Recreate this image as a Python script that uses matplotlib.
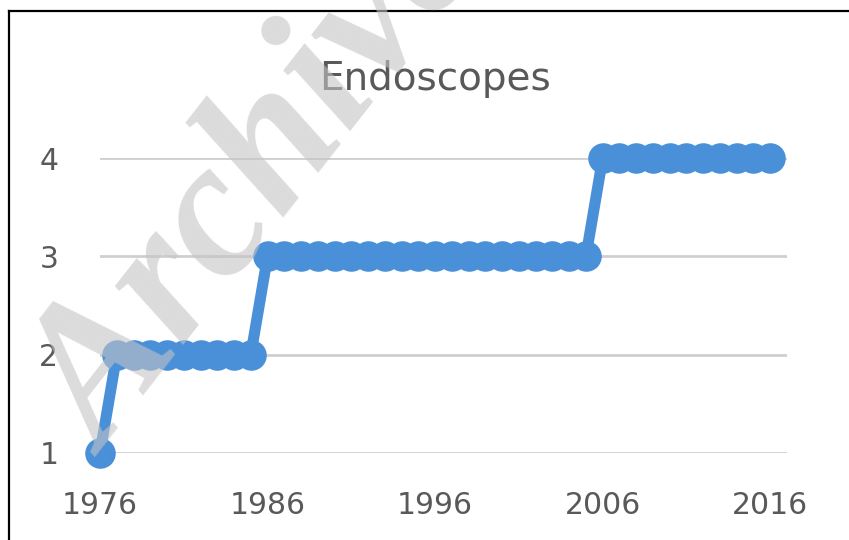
"""Endoscopes count over time, Excel-style line chart."""

import matplotlib

matplotlib.use("Agg")
import matplotlib.pyplot as plt
from matplotlib.lines import Line2D

YEARS = [
    1976, 1977, 1978, 1979, 1980, 1981, 1982, 1983, 1984, 1985,
    1986, 1987, 1988, 1989, 1990, 1991, 1992, 1993, 1994, 1995,
    1996, 1997, 1998, 1999, 2000, 2001, 2002, 2003, 2004, 2005,
    2006, 2007, 2008, 2009, 2010, 2011, 2012, 2013, 2014, 2015, 2016,
]
ENDOSCOPES = [
    1, 2, 2, 2, 2, 2, 2, 2, 2, 2,
    3, 3, 3, 3, 3, 3, 3, 3, 3, 3,
    3, 3, 3, 3, 3, 3, 3, 3, 3, 3,
    4, 4, 4, 4, 4, 4, 4, 4, 4, 4, 4,
]
X_TICKS = [1976, 1986, 1996, 2006, 2016]
Y_TICKS = [1, 2, 3, 4]

COLORS = {
    "line": "#4A90D9",
    "grid": "#CFCFCF",
    "text": "#595959",
    "mark": "#C4C4C4",
}

W, H = 849, 540
fig = plt.figure(figsize=(W / 100, H / 100), dpi=100)
fig.patch.set_facecolor("white")

ax = fig.add_axes([100 / W, 1 - 453 / H, 687 / W, 295 / H])
ax.set_facecolor("white")

ax.plot(
    YEARS,
    ENDOSCOPES,
    color=COLORS["line"],
    linewidth=8,
    marker="o",
    markersize=22,
    markeredgewidth=0,
    solid_joinstyle="round",
    clip_on=False,
    zorder=3,
)

ax.set_xlim(1976, 2017)
ax.set_ylim(1, 4)
ax.set_xticks(X_TICKS)
ax.set_yticks(Y_TICKS)
ax.yaxis.grid(True, color=COLORS["grid"], linewidth=2)
ax.set_axisbelow(True)
for side in ax.spines.values():
    side.set_visible(False)
ax.tick_params(axis="both", length=0, labelsize=21.5, labelcolor=COLORS["text"])
ax.tick_params(axis="x", pad=27)
ax.tick_params(axis="y", pad=30)

fig.text(0.512, 1 - 90 / H, "Endoscopes", ha="center", va="baseline",
         fontsize=28, color=COLORS["text"])

# frame around the picture (top and left edges only)
fig.add_artist(Line2D([9 / W, 1], [1 - 11 / H, 1 - 11 / H],
                      transform=fig.transFigure, color="black", linewidth=1.6))
fig.add_artist(Line2D([9 / W, 9 / W], [0, 1 - 11 / H],
                      transform=fig.transFigure, color="black", linewidth=1.6))

# watermark
fig.text(262 / W, 1 - 182 / H, "Archive", ha="center", va="center",
         rotation=52, rotation_mode="anchor", fontsize=140,
         family="Liberation Serif", fontweight="bold", fontstyle="italic",
         color=COLORS["mark"], alpha=0.6, zorder=10)

fig.savefig("out.png", dpi=100)
